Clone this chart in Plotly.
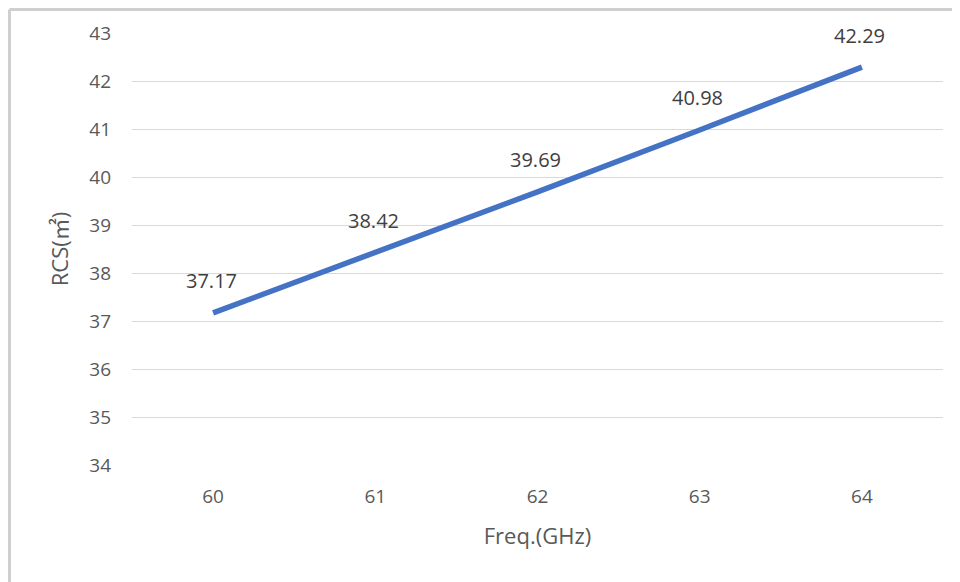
import plotly.graph_objects as go

freq = [60, 61, 62, 63, 64]
rcs = [37.17, 38.42, 39.69, 40.98, 42.29]
labels = ["37.17", "38.42", "39.69", "40.98", "42.29"]
y_ticks = [34, 35, 36, 37, 38, 39, 40, 41, 42, 43]

W, H = 960, 582
OFF = 8  # page body offset
L, T = 132 - OFF, 33 - OFF
R = W - (943 - OFF)
B = H - (465 - OFF)
pw, ph = W - L - R, H - T - B

fig = go.Figure()
fig.add_trace(go.Scatter(
    x=freq, y=rcs, mode="lines",
    line=dict(color="#4472C4", width=5.5),
    hoverinfo="x+y", showlegend=False,
))
for xv, yv, t in zip(freq, rcs, labels):
    fig.add_annotation(x=xv, y=yv, text=t, showarrow=False, yshift=32, xshift=-2,
                       font=dict(family="Open Sans", size=20, color="#404040"))

gray = "#d9d9d9"
fig.update_layout(
    width=W, height=H,
    margin=dict(l=L, r=R, t=T, b=B),
    paper_bgcolor="white", plot_bgcolor="white",
    font=dict(family="Open Sans", color="#595959", size=18),
    xaxis=dict(
        range=[59.5, 64.5], tickvals=freq, showgrid=False, zeroline=False,
        showline=False, ticks="", tickfont=dict(size=19, color="#595959"),
        ticklabelstandoff=18,
        title=dict(text="Freq.(GHz)", font=dict(size=22, color="#595959"), standoff=20),
    ),
    yaxis=dict(
        range=[34, 43], tickvals=y_ticks, showgrid=True, gridcolor=gray, gridwidth=1.3,
        zeroline=False, showline=False, ticks="",
        tickfont=dict(size=19, color="#595959"), ticklabelstandoff=20,
        title=dict(text="RCS(㎡)", font=dict(family="Open Sans, Noto Sans CJK SC", size=22, color="#595959"),
                   standoff=14),
    ),
)

# outer frame lines (top and left) of the chart image
fx = (1.5 - L) / pw
fy = (H - B - 1.5) / ph
fig.add_shape(type="line", xref="paper", yref="paper",
              x0=fx, x1=(W + 10 - L) / pw, y0=fy, y1=fy,
              line=dict(color="#cfcfcf", width=3))
fig.add_shape(type="line", xref="paper", yref="paper",
              x0=fx, x1=fx, y0=fy, y1=-(B + 10) / ph,
              line=dict(color="#cfcfcf", width=3))

fig.write_html("out.html")
